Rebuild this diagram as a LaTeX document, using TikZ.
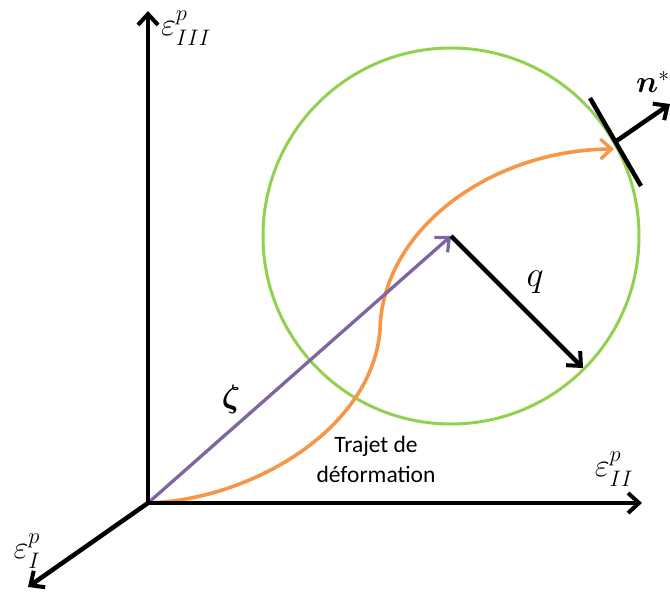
\documentclass[tikz,border=0pt]{standalone}
\usepackage{amsmath,bm,graphicx}
\usepackage{fontspec}
\newfontfamily\calibri{Carlito}
\usetikzlibrary{arrows.meta}
\definecolor{vert}{HTML}{92D050}
\definecolor{violet}{HTML}{8064A2}
\definecolor{orange}{HTML}{F79646}
\begin{document}
\begin{tikzpicture}[x=1pt,y=-1pt,
  tip/.style={-{Straight Barb[length=11pt,width=20pt,line width=4pt]}},
  axis/.style={line width=4.5pt,tip},
  mlabel/.style={inner sep=0pt,font=\fontsize{24}{28}\selectfont},
  txt/.style={inner sep=0pt,align=center,font=\calibri\fontsize{23.5}{30}\selectfont}]
\useasboundingbox (0,0) rectangle (670,592);
% coordinates
\coordinate (O) at (148,503);
\coordinate (Z) at (148,11);
\coordinate (Y) at (642,503);
\coordinate (X) at (28,587);
\coordinate (C) at (451,236);
\coordinate (Q) at (583,368);
\coordinate (T) at (615,142);
\coordinate (T1) at (590,98);
\coordinate (T2) at (641,186);
\coordinate (N) at (670,104);
\coordinate (E) at (614,149);
% circle
\draw[vert,line width=3pt] (C) circle (188pt);
% orange path
\draw[orange,line width=3.6pt,-{Straight Barb[length=11pt,width=20pt,line width=3.4pt]}]
  (O) .. controls (250,500) and (372,430) .. (380,330)
      .. controls (382,230) and (490,150) .. (E);
% purple vector
\draw[violet,line width=3.3pt,-{Straight Barb[length=11pt,width=20pt,line width=3.2pt]}] (O) -- (C);
% axes
\draw[axis] (O) -- (Z);
\draw[axis] (O) -- (Y);
\draw[axis] (O) -- (X);
% q
\draw[axis] (C) -- (Q);
% tangent and normal
\draw[line width=4.5pt] (T1) -- (T2);
\draw[axis] (T) -- (N);
% labels
\node[mlabel] (lz) at (186,28) {\scalebox{1.3}{$\varepsilon^{p}_{III}$}};
\node[mlabel] (ly) at (614,469) {\scalebox{1.3}{$\varepsilon^{p}_{II}$}};
\node[mlabel] (lx) at (27,551) {\scalebox{1.3}{$\varepsilon^{p}_{I}$}};
\node[mlabel] (lq) at (535,282) {\scalebox{1.45}{$q$}};
\node[mlabel] (lzeta) at (231,399) {\scalebox{1.3}{$\bm{\zeta}$}};
\node[mlabel] (ln) at (653,82) {\scalebox{1.25}{$\bm{n}^{*}$}};
\node[txt] (ltr) at (376,459) {Trajet de\\déformation};
\end{tikzpicture}
\end{document}
